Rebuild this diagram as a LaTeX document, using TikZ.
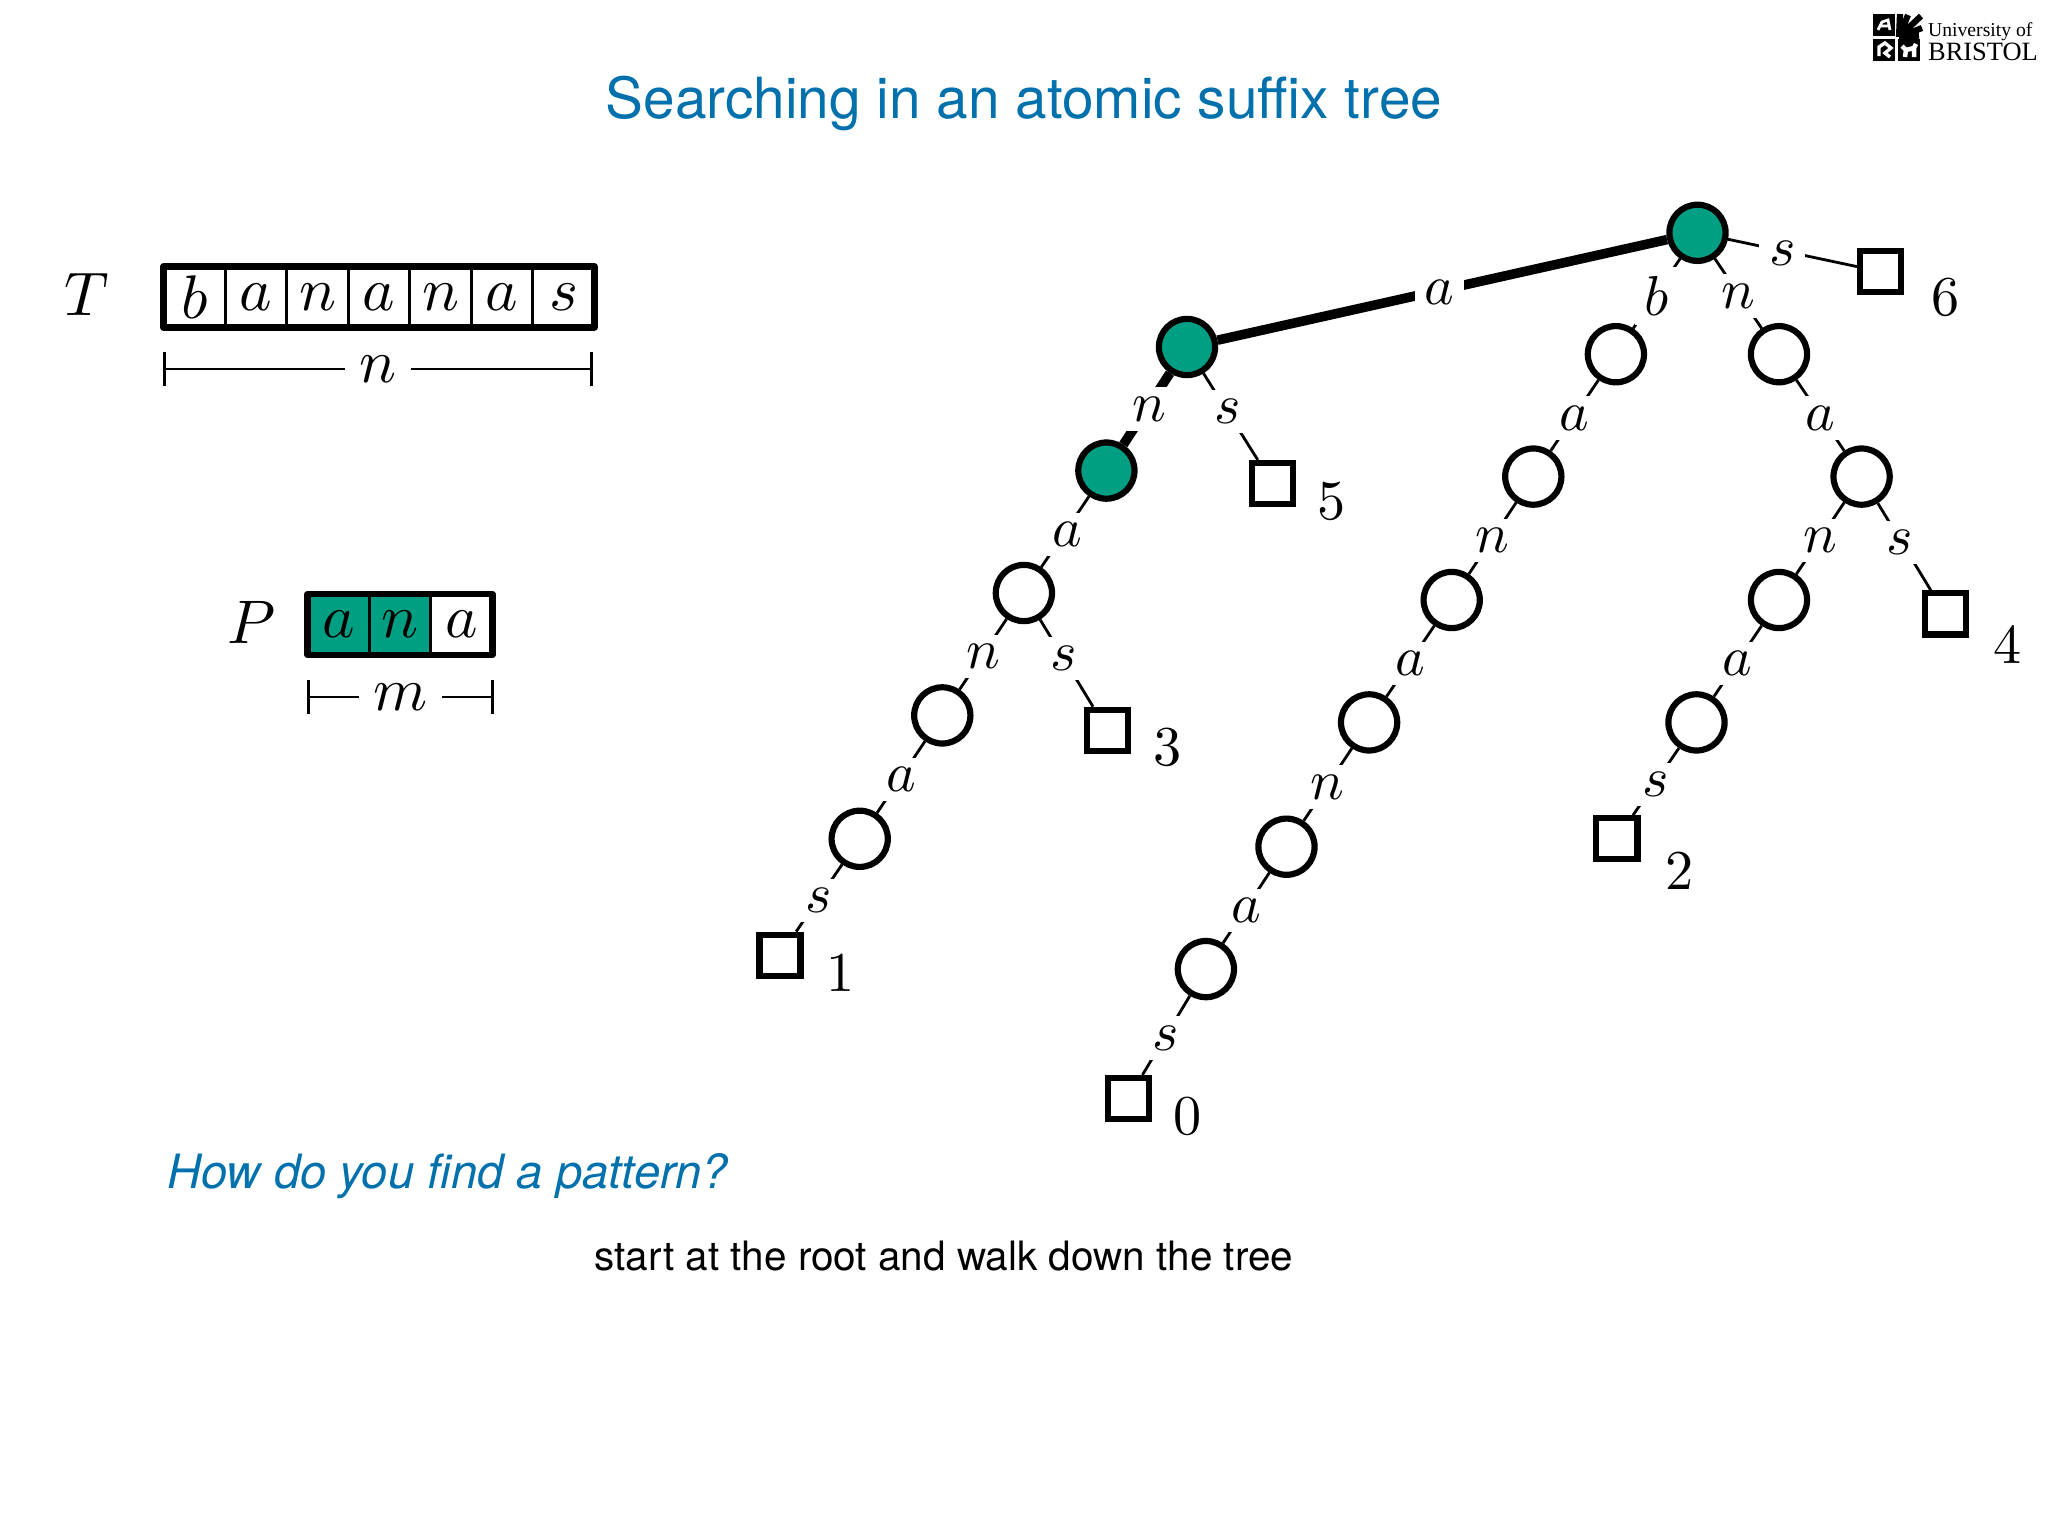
\documentclass[tikz,border=0pt]{standalone}
\usepackage[no-math]{fontspec}
\usetikzlibrary{arrows.meta}
\newfontfamily\slidefont{TeX Gyre Heros}
\newfontfamily\logofont{Liberation Serif}
\definecolor{slideblue}{RGB}{0,113,172}
\definecolor{matchgreen}{RGB}{0,158,130}
\tikzset{
  inner/.style={circle,draw,line width=1.1pt,minimum size=10pt,inner sep=0pt,fill=white},
  hit/.style={inner,fill=matchgreen},
  leaf/.style={rectangle,draw,line width=1.1pt,minimum size=7.3pt,inner sep=0pt,fill=white},
  lab/.style={fill=white,inner sep=1.7pt,yshift=-.45pt,font=\fontsize{10}{12}\selectfont},
  edge/.style={line width=.5pt},
  walked/.style={line width=1.7pt},
  cell/.style={rectangle,draw,line width=.5pt,minimum width=10.95pt,minimum height=10.8pt,inner sep=0pt,outer sep=0pt,font=\fontsize{11}{13}\selectfont},
  span/.style={line width=.5pt,{Bar[width=6.2pt]}-{Bar[width=6.2pt]}},
  spanlab/.style={fill=white,inner sep=2.6pt,font=\fontsize{11}{13}\selectfont},
  num/.style={font=\fontsize{9.6}{12}\selectfont}
}
\begin{document}
\begin{tikzpicture}[x=.0625mm,y=-.0625mm]
\useasboundingbox[fill=white] (0,0) rectangle (2048,1536);
% heading
\node[anchor=base,text=slideblue,font=\slidefont\fontsize{10.09}{12}\selectfont] (title) at (1024,119) {Searching in an atomic suffix tree};
% logo
\fill (1873,14) rectangle (1895,36);
\fill (1873,39) rectangle (1895,61);
\fill (1898,39) rectangle (1920,61);
\draw[line width=1.1pt] (1899,37)--(1900,14) (1899,37)--(1908,15) (1899,37)--(1921,16) (1899,37)--(1922,28) (1899,37)--(1919,36);
\draw[white,line width=.5pt] (1878,30)--(1882,22)--(1888,20)--(1890,30) (1880,26)--(1889,26);
\draw[white,line width=.6pt] (1879,56)--(1879,47)--(1885,43)--(1891,48)--(1885,53)--(1890,57);
\draw[white,line width=.8pt] (1902,46)--(1906,50)--(1914,48)--(1916,44) (1906,50)--(1905,57) (1914,48)--(1914,57);
\node[anchor=base west,inner sep=0pt,font=\logofont\fontsize{3.5}{4}\selectfont] (univ) at (1927,36) {University of};
\node[anchor=base west,inner sep=0pt,font=\logofont\fontsize{4.7}{5}\selectfont] (bristol) at (1927,60.5) {BRISTOL};
% text T
\node[cell] (t1) at (194.5,297) {$b$};
\node[cell] (t2) at (256,297) {$a$};
\node[cell] (t3) at (317.5,297) {$n$};
\node[cell] (t4) at (379,297) {$a$};
\node[cell] (t5) at (440.5,297) {$n$};
\node[cell] (t6) at (502,297) {$a$};
\node[cell] (t7) at (563.5,297) {$s$};
\draw[line width=1.15pt,line join=round] (t1.north west) rectangle (t7.south east);
\node (tname) at (87,294) {\fontsize{10.5}{13}\selectfont$T$};
\coordinate (tl) at (163,369);
\coordinate (tr) at (593,369);
\draw[span] (tl)--node[spanlab]{$n$}(tr);
% pattern P
\node[cell,fill=matchgreen] (p1) at (338.5,624.5) {$a$};
\node[cell,fill=matchgreen] (p2) at (400,624.5) {$n$};
\node[cell] (p3) at (461.5,624.5) {$a$};
\draw[line width=1.15pt,line join=round] (p1.north west) rectangle (p3.south east);
\node (pname) at (252,622) {\fontsize{10.5}{13}\selectfont$P$};
\coordinate (pl) at (307,697);
\coordinate (pr) at (494,697);
\draw[span] (pl)--node[spanlab]{$m$}(pr);
% tree
\node[hit] (rt) at (1697.5,232.8) {};
\node[hit] (a) at (1187,347) {};
\node[hit] (an) at (1106.4,470.6) {};
\node[inner] (ana) at (1023.9,593) {};
\node[inner] (anan) at (942.3,715.4) {};
\node[inner] (anana) at (859.7,838.8) {};
\node[inner] (b) at (1615.9,354.2) {};
\node[inner] (ba) at (1533.3,476.6) {};
\node[inner] (ban) at (1451.7,600) {};
\node[inner] (bana) at (1369.1,722.4) {};
\node[inner] (banan) at (1286.5,846.7) {};
\node[inner] (banana) at (1205.9,969.1) {};
\node[inner] (n) at (1779,354.2) {};
\node[inner] (na) at (1861.6,476.6) {};
\node[inner] (nan) at (1779,600) {};
\node[inner] (nana) at (1696.5,722.4) {};
\node[leaf] (l0) at (1128.3,1098.5) {};
\node[leaf] (l1) at (780,955.2) {};
\node[leaf] (l2) at (1616.9,838.8) {};
\node[leaf] (l3) at (1107.4,730.3) {};
\node[leaf] (l4) at (1945.2,613.9) {};
\node[leaf] (l5) at (1272.6,483.6) {};
\node[leaf] (l6) at (1880.6,271.6) {};
\node[num] (n0) at (1188,1116) {$0$};
\node[num] (n1) at (840.5,973) {$1$};
\node[num] (n2) at (1680,871.6) {$2$};
\node[num] (n3) at (1168,747) {$3$};
\node[num] (n4) at (2008,645.8) {$4$};
\node[num] (n5) at (1331.3,501.5) {$5$};
\node[num] (n6) at (1946,297.5) {$6$};
\draw[walked] (rt)--node[lab,xshift=-.5pt]{$a$}(a);
\draw[walked] (a)--node[lab,xshift=.4pt,yshift=.4pt]{$n$}(an);
\draw[edge] (a)--node[lab,pos=.41,xshift=.3pt]{$s$}(l5);
\draw[edge] (an)--node[lab,xshift=.4pt]{$a$}(ana);
\draw[edge] (ana)--node[lab]{$n$}(anan);
\draw[edge] (ana)--node[lab,pos=.42,xshift=.3pt]{$s$}(l3);
\draw[edge] (anan)--node[lab]{$a$}(anana);
\draw[edge] (anana)--node[lab]{$s$}(l1);
\draw[edge] (rt)--node[lab]{$b$}(b);
\draw[edge] (b)--node[lab]{$a$}(ba);
\draw[edge] (ba)--node[lab]{$n$}(ban);
\draw[edge] (ban)--node[lab]{$a$}(bana);
\draw[edge] (bana)--node[lab]{$n$}(banan);
\draw[edge] (banan)--node[lab]{$a$}(banana);
\draw[edge] (banana)--node[lab]{$s$}(l0);
\draw[edge] (rt)--node[lab]{$n$}(n);
\draw[edge] (n)--node[lab]{$a$}(na);
\draw[edge] (na)--node[lab]{$n$}(nan);
\draw[edge] (na)--node[lab,pos=.42]{$s$}(l4);
\draw[edge] (nan)--node[lab]{$a$}(nana);
\draw[edge] (nana)--node[lab]{$s$}(l2);
\draw[edge] (rt)--node[lab,pos=.42]{$s$}(l6);
% question
\node[anchor=base west,inner sep=0pt,text=slideblue,font=\slidefont\itshape\fontsize{8.4}{10}\selectfont] (ask) at (166,1188) {How do you find a pattern?};
\node[anchor=base west,inner sep=0pt,font=\slidefont\fontsize{7.2}{9}\selectfont] (answer) at (593.5,1270) {start at the root and walk down the tree};
\end{tikzpicture}
\end{document}
